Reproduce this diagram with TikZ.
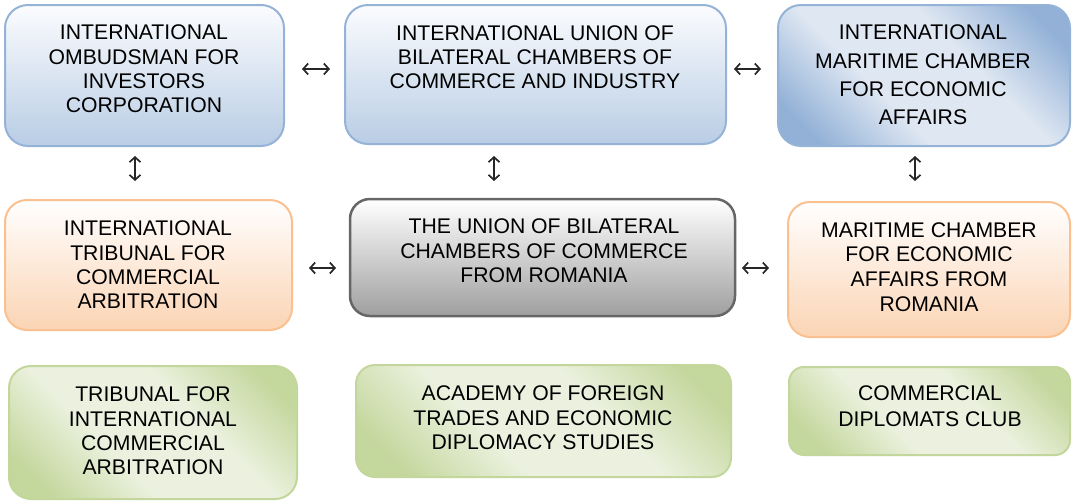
\documentclass[tikz,border=0pt]{standalone}
\usepackage{fontspec}
\setmainfont{Liberation Sans}
\usetikzlibrary{arrows.meta}

% palette
\definecolor{bluedge}{HTML}{95B3D7}
\definecolor{bluetop}{HTML}{FBFCFE}
\definecolor{bluebot}{HTML}{B9CDE5}
\definecolor{imcdark}{HTML}{93B1D7}
\definecolor{imclight}{HTML}{DEE7F2}
\definecolor{orgedge}{HTML}{FAC090}
\definecolor{orgbot}{HTML}{FBD4B4}
\definecolor{grayedge}{HTML}{666666}
\definecolor{graybot}{HTML}{9F9F9F}
\definecolor{grnedge}{HTML}{C3D69B}
\definecolor{grndark}{HTML}{C4D79D}
\definecolor{grnlight}{HTML}{EBF1DE}
\definecolor{arrowgray}{HTML}{262626}

% diagonal band shadings: darker corners, broad light diagonal
\pgfdeclarehorizontalshading{bluediag}{100bp}{color(0bp)=(imcdark); color(22bp)=(imcdark); color(40bp)=(imclight); color(60bp)=(imclight); color(78bp)=(imcdark); color(100bp)=(imcdark)}
\pgfdeclarehorizontalshading{greendiag}{100bp}{color(0bp)=(grndark); color(22bp)=(grndark); color(40bp)=(grnlight); color(60bp)=(grnlight); color(78bp)=(grndark); color(100bp)=(grndark)}

\newcommand\boxfont[1]{\fontsize{21.2}{#1}\selectfont}

\begin{document}
\begin{tikzpicture}[x=1pt,y=-1pt,
  panel/.style={draw, rectangle, inner sep=0pt, outer sep=0pt},
  bluepanel/.style={panel, draw=bluedge, line width=2pt, top color=bluetop, bottom color=bluebot},
  bluediagpanel/.style={panel, draw=bluedge, line width=2pt, shading=bluediag, shading angle=45},
  orangepanel/.style={panel, draw=orgedge, line width=2pt, top color=white, bottom color=orgbot},
  graypanel/.style={panel, draw=grayedge, line width=2.5pt, top color=white, bottom color=graybot},
  greenpanel/.style={panel, draw=grnedge, line width=2pt, shading=greendiag, shading angle=45},
  label/.style={align=center, inner sep=0pt, text=black},
  biarrow/.style={draw=arrowgray, line width=1.7pt,
    {Straight Barb[length=5pt,width=11pt]}-{Straight Barb[length=5pt,width=11pt]}}
]
\useasboundingbox (0,0) rectangle (1074,501);

% top row
\node[bluepanel, minimum width=279pt, minimum height=141pt, rounded corners=23pt] (omb) at (144.5,75.5) {};
\node[label, font=\boxfont{24.3}] (ombtext) at (144,69) {INTERNATIONAL\\OMBUDSMAN FOR\\INVESTORS\\CORPORATION};

\node[bluepanel, minimum width=381pt, minimum height=139pt, rounded corners=23pt] (iuc) at (535.5,74.5) {};
\node[label, font=\boxfont{24}] (iuctext) at (535,57) {INTERNATIONAL UNION OF\\BILATERAL CHAMBERS OF\\COMMERCE AND INDUSTRY};

\node[bluediagpanel, minimum width=292pt, minimum height=141pt, rounded corners=23pt] (imc) at (924,75.5) {};
\node[label, font=\boxfont{28.3}] (imctext) at (923,75) {INTERNATIONAL\\MARITIME CHAMBER\\FOR ECONOMIC\\AFFAIRS};

% middle row
\node[orangepanel, minimum width=287pt, minimum height=130pt, rounded corners=22pt] (itca) at (148.5,265) {};
\node[label, font=\boxfont{24.3}] (itcatext) at (148,265) {INTERNATIONAL\\TRIBUNAL FOR\\COMMERCIAL\\ARBITRATION};

\node[graypanel, minimum width=385pt, minimum height=117pt, rounded corners=20pt] (ubc) at (542.5,257.5) {};
\node[label, font=\boxfont{24.5}] (ubctext) at (544,251) {THE UNION OF BILATERAL\\CHAMBERS OF COMMERCE\\FROM ROMANIA};

\node[orangepanel, minimum width=282pt, minimum height=135pt, rounded corners=22pt] (mcr) at (929,269.5) {};
\node[label, font=\boxfont{24.7}] (mcrtext) at (929,267) {MARITIME CHAMBER\\FOR ECONOMIC\\AFFAIRS FROM\\ROMANIA};

% bottom row
\node[greenpanel, minimum width=288pt, minimum height=133pt, rounded corners=22pt] (tica) at (153,432.5) {};
\node[label, font=\boxfont{24.4}] (ticatext) at (153,431) {TRIBUNAL FOR\\INTERNATIONAL\\COMMERCIAL\\ARBITRATION};

\node[greenpanel, minimum width=375pt, minimum height=112pt, rounded corners=19pt] (afte) at (543.5,421) {};
\node[label, font=\boxfont{24.5}] (aftetext) at (543,418) {ACADEMY OF FOREIGN\\TRADES AND ECONOMIC\\DIPLOMACY STUDIES};

\node[greenpanel, minimum width=281pt, minimum height=88pt, rounded corners=15pt] (cdc) at (929.5,411) {};
\node[label, font=\boxfont{25.7}] (cdctext) at (930,406) {COMMERCIAL\\DIPLOMATS CLUB};

% two-way arrows between the panels
\coordinate (h1a) at (302,69);  \coordinate (h1b) at (330,69);
\coordinate (h2a) at (734,69);  \coordinate (h2b) at (761,69);
\coordinate (h3a) at (309,268); \coordinate (h3b) at (336,268);
\coordinate (h4a) at (742,268); \coordinate (h4b) at (769,268);
\coordinate (v1a) at (135,156); \coordinate (v1b) at (135,181);
\coordinate (v2a) at (494,156); \coordinate (v2b) at (494,181);
\coordinate (v3a) at (915,156); \coordinate (v3b) at (915,181);
\draw[biarrow] (h1a) -- (h1b);
\draw[biarrow] (h2a) -- (h2b);
\draw[biarrow] (h3a) -- (h3b);
\draw[biarrow] (h4a) -- (h4b);
\draw[biarrow] (v1a) -- (v1b);
\draw[biarrow] (v2a) -- (v2b);
\draw[biarrow] (v3a) -- (v3b);
\end{tikzpicture}
\end{document}
